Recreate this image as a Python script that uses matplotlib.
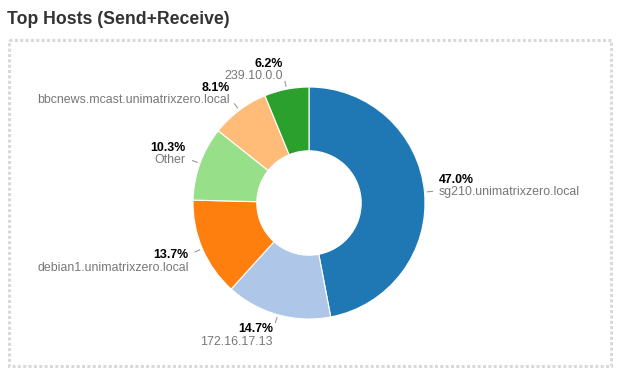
import numpy as np
import matplotlib
matplotlib.use("Agg")
import matplotlib.pyplot as plt
from matplotlib.patches import Rectangle

hosts = ["sg210.unimatrixzero.local", "172.16.17.13", "debian1.unimatrixzero.local",
         "Other", "bbcnews.mcast.unimatrixzero.local", "239.10.0.0"]
shares = [47.0, 14.7, 13.7, 10.3, 8.1, 6.2]
colors = ["#1f77b4", "#aec7e8", "#ff7f0e", "#98df8a", "#ffbb78", "#2ca02c"]
title = "Top Hosts (Send+Receive)"

W, H = 625, 381
fig = plt.figure(figsize=(W / 100, H / 100), dpi=100)
FONT = "Liberation Sans"

# background overlay in pixel coordinates
bg = fig.add_axes([0, 0, 1, 1])
bg.set_xlim(0, W)
bg.set_ylim(H, 0)
bg.axis("off")
bg.text(7, 24, title, fontsize=12.7, fontweight="bold", color="#333333",
        family=FONT, ha="left", va="baseline")
bg.add_patch(Rectangle((8.5, 39.5), 602, 326, fill=False, edgecolor="#d9d9d9",
                       linewidth=2.2, linestyle=(0, (1, 0.75)), capstyle="butt"))

# pie axes: 1 data unit = R px
cx, cy, R = 309, 203, 116
ax = fig.add_axes([0, 0, 1, 1])
ax.pie(shares, colors=colors, startangle=90, counterclock=False, radius=1,
       wedgeprops=dict(width=0.55, edgecolor="white", linewidth=0.8))
ax.set_aspect("auto")
ax.set_xlim(-cx / R, (W - cx) / R)
ax.set_ylim(-(H - cy) / R, cy / R)
ax.axis("off")

px = 1.0 / R
cum = 0.0
for name, v in zip(hosts, shares):
    mid = np.deg2rad(90 - (cum + v / 2) * 3.6)
    cum += v
    c, s = np.cos(mid), np.sin(mid)
    ax.plot([119 * px * c, 124 * px * c], [119 * px * s, 124 * px * s],
            color="#999999", lw=0.8)
    axx, ayy = 130 * px * c, 130 * px * s
    ha = "left" if c > 0 else "right"
    axx += (-1 * px) if c < 0 else 0
    if s > 0:
        name_y = ayy - 4 * px
        pct_y = ayy + 8 * px
    else:
        pct_y = ayy - 4 * px
        name_y = ayy - 16.5 * px
    ax.text(axx, pct_y, f"{v:.1f}%", fontsize=8.9, fontweight="bold", color="black",
            family=FONT, ha=ha, va="baseline")
    ax.text(axx, name_y, name, fontsize=8.9, color="#777777",
            family=FONT, ha=ha, va="baseline")

fig.savefig("out.png", dpi=100)
